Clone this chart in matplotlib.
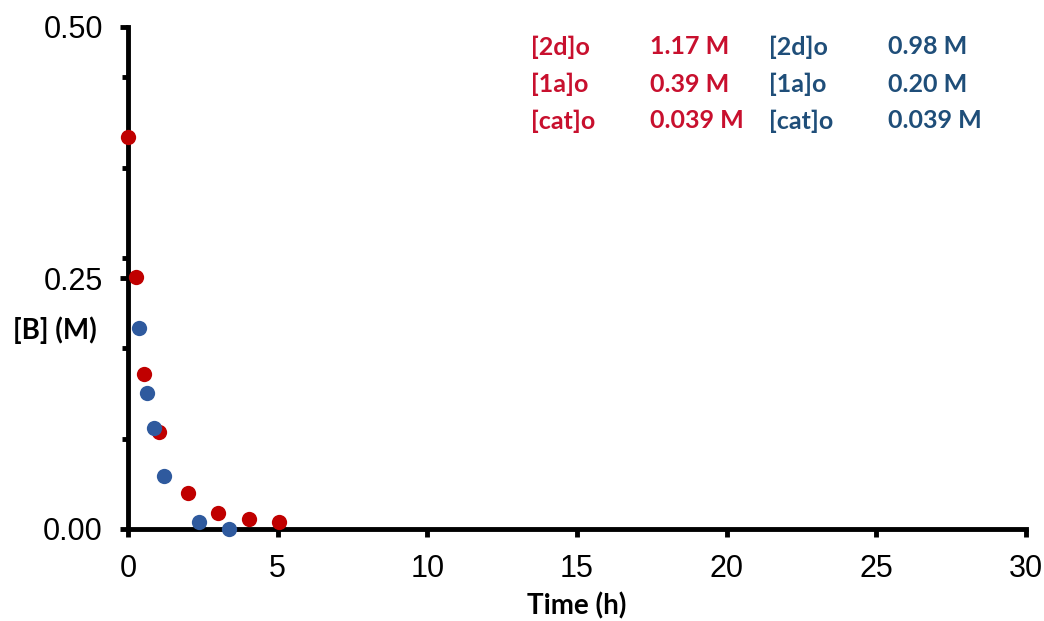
import matplotlib
matplotlib.use("Agg")
import matplotlib.pyplot as plt
from matplotlib.ticker import MultipleLocator

# Concentration of B over time for two initial conditions
time_red = [0.0, 0.27, 0.53, 1.04, 2.0, 3.0, 4.04, 5.04]
conc_red = [0.390, 0.251, 0.154, 0.097, 0.036, 0.016, 0.010, 0.007]

time_blue = [0.37, 0.63, 0.87, 1.2, 2.37, 3.37]
conc_blue = [0.200, 0.135, 0.101, 0.053, 0.007, 0.0]

red_labels = ["[2d]o", "[1a]o", "[cat]o"]
red_values = ["1.17 M", "0.39 M", "0.039 M"]
blue_labels = ["[2d]o", "[1a]o", "[cat]o"]
blue_values = ["0.98 M", "0.20 M", "0.039 M"]

x_ticks = [0, 5, 10, 15, 20, 25, 30]
y_ticks = [0.0, 0.25, 0.5]

RED = "#C00000"
BLUE = "#2F5A9E"
RED_TXT = "#C8102E"
BLUE_TXT = "#1F4E79"
LABEL_FONT = "Lato"

fig = plt.figure(figsize=(10.44, 6.21), dpi=100)
ax = fig.add_axes([128 / 1044, 1 - 529 / 621, (1026 - 128) / 1044, (529 - 27) / 621])

ax.plot(time_red, conc_red, "o", color=RED, markersize=11, markeredgewidth=0, clip_on=False, zorder=3)
ax.plot(time_blue, conc_blue, "o", color=BLUE, markersize=11, markeredgewidth=0, clip_on=False, zorder=3)

ax.set_xlim(0, 30)
ax.set_ylim(0, 0.5)
ax.set_xticks(x_ticks)
ax.set_xticklabels([str(t) for t in x_ticks], fontsize=22, family="Liberation Sans")
ax.set_yticks(y_ticks)
ax.set_yticklabels([f"{t:.2f}" for t in y_ticks], fontsize=22, family="Liberation Sans")
ax.yaxis.set_minor_locator(MultipleLocator(0.09))

for side in ("top", "right"):
    ax.spines[side].set_visible(False)
for side in ("left", "bottom"):
    ax.spines[side].set_linewidth(3.5)
    ax.spines[side].set_color("black")

ax.tick_params(axis="both", which="major", direction="out", length=6, width=3.5)
ax.tick_params(axis="x", which="major", pad=12)
ax.tick_params(axis="y", which="major", pad=12)
ax.tick_params(axis="y", which="minor", direction="out", length=4, width=3.5)

fig.text(55 / 1044, 1 - 330 / 621, "[B] (M)", fontsize=20, fontweight="bold",
         family=LABEL_FONT, ha="center", va="center")
fig.text(577 / 1044, 1 - 606 / 621, "Time (h)", fontsize=20, fontweight="bold",
         family=LABEL_FONT, ha="center", va="center")

row_y = [47, 84, 121]
for i in range(3):
    yy = 1 - row_y[i] / 621
    fig.text(531 / 1044, yy, red_labels[i], color=RED_TXT, fontsize=18, fontweight="bold",
             family=LABEL_FONT, ha="left", va="center")
    fig.text(650 / 1044, yy, red_values[i], color=RED_TXT, fontsize=18, fontweight="bold",
             family=LABEL_FONT, ha="left", va="center")
    fig.text(769 / 1044, yy, blue_labels[i], color=BLUE_TXT, fontsize=18, fontweight="bold",
             family=LABEL_FONT, ha="left", va="center")
    fig.text(888 / 1044, yy, blue_values[i], color=BLUE_TXT, fontsize=18, fontweight="bold",
             family=LABEL_FONT, ha="left", va="center")

fig.savefig("out.png", dpi=100)
